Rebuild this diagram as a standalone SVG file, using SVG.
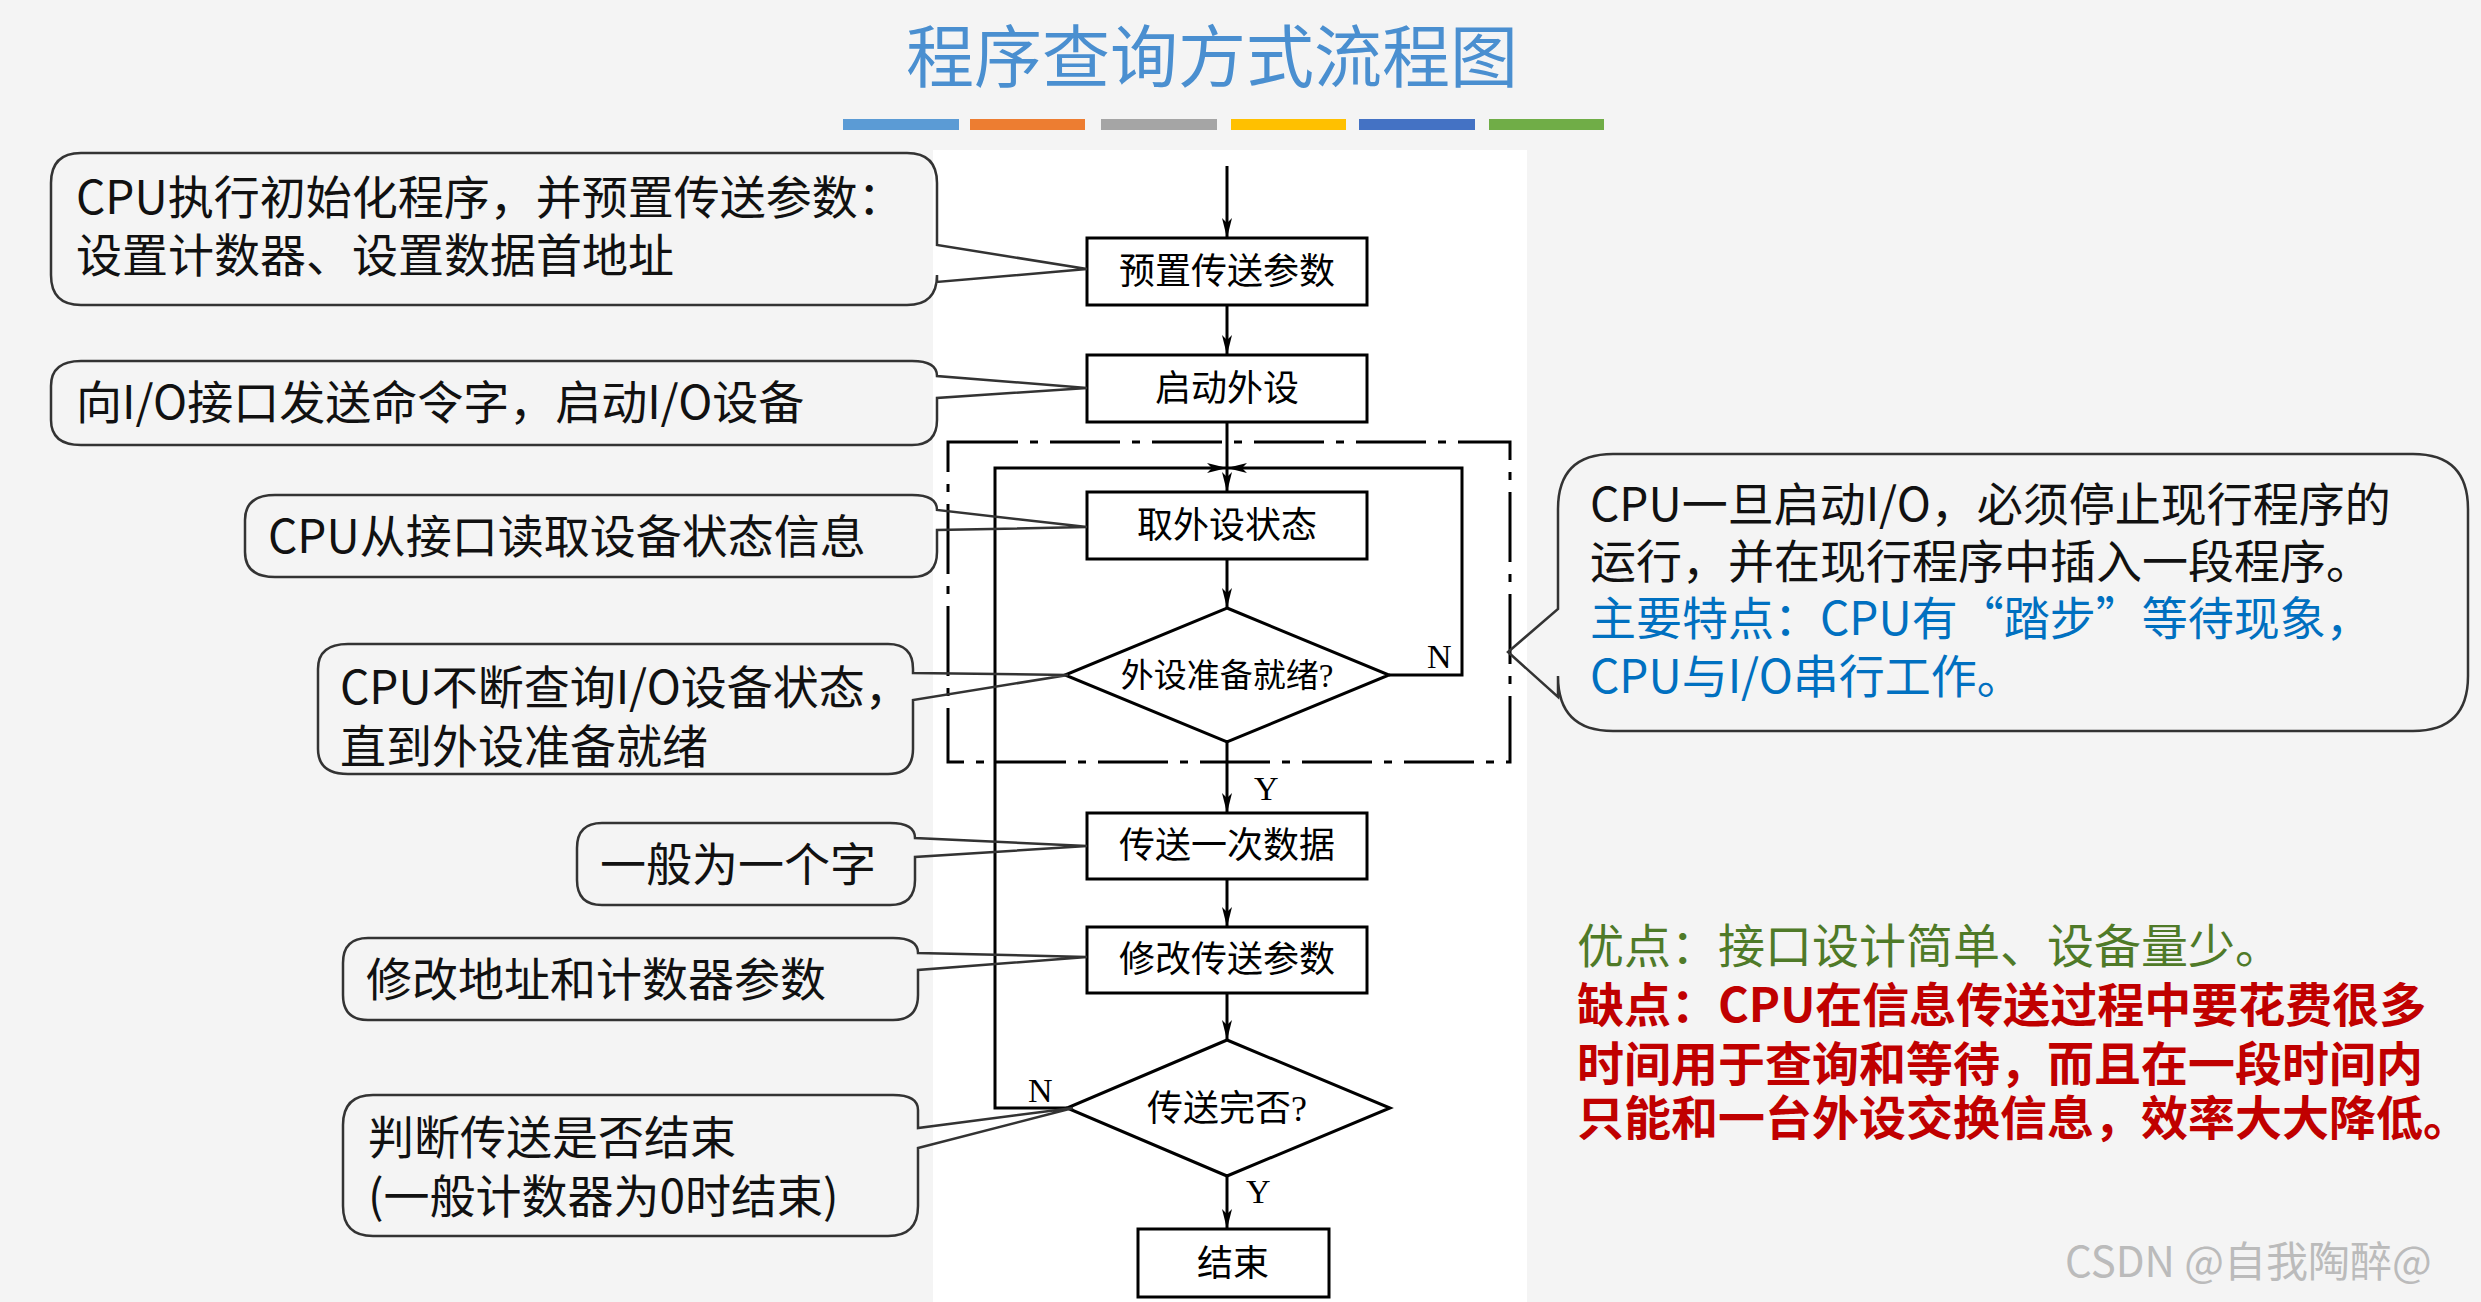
<svg xmlns="http://www.w3.org/2000/svg" width="2481" height="1302" viewBox="0 0 2481 1302">
<defs>
<marker id="ah" viewBox="0 0 20 10" refX="20" refY="5" markerWidth="20" markerHeight="10" markerUnits="userSpaceOnUse" orient="auto"><path d="M0,0 L20,5 L0,10 L5,5 Z" fill="#000"/></marker>
<style>
.box{fill:#fff;stroke:#000;stroke-width:3}
.ln{fill:none;stroke:#000;stroke-width:3}
.arr{fill:none;stroke:#000;stroke-width:3;marker-end:url(#ah)}
.co{fill:none;stroke:#333;stroke-width:2.5}
.bt{font-family:"Liberation Serif","Noto Sans CJK SC",serif;font-size:36px;text-anchor:middle;fill:#000}
.yn{font-family:"Liberation Serif",serif;font-size:34px;fill:#000}
.ct{font-family:"Noto Sans CJK SC",sans-serif;font-size:46px;fill:#111}
.blue{fill:#0070c0}
</style>
</defs>
<rect width="2481" height="1302" fill="#f4f4f4"/>
<rect x="933" y="150" width="594" height="1152" fill="#fff"/>
<text x="1212" y="82" font-family="Noto Sans CJK SC,sans-serif" font-size="68" fill="#4a8fd0" text-anchor="middle">程序查询方式流程图</text>
<g id="bars">
<rect x="843" y="119" width="116" height="11" fill="#5b9bd5"/>
<rect x="970" y="119" width="115" height="11" fill="#ed7d31"/>
<rect x="1101" y="119" width="116" height="11" fill="#a5a5a5"/>
<rect x="1231" y="119" width="115" height="11" fill="#ffc000"/>
<rect x="1359" y="119" width="116" height="11" fill="#4472c4"/>
<rect x="1489" y="119" width="115" height="11" fill="#70ad47"/>
</g>
<g id="connectors">
<rect x="948" y="442" width="562" height="320" fill="none" stroke="#000" stroke-width="3" stroke-dasharray="70 12 8 12"/>
<line class="arr" x1="1227" y1="166" x2="1227" y2="238"/>
<line class="arr" x1="1227" y1="305" x2="1227" y2="355"/>
<line class="arr" x1="1227" y1="422" x2="1227" y2="492"/>
<line class="arr" x1="1227" y1="559" x2="1227" y2="608"/>
<line class="arr" x1="1227" y1="742" x2="1227" y2="813"/>
<line class="arr" x1="1227" y1="879" x2="1227" y2="927"/>
<line class="arr" x1="1227" y1="993" x2="1227" y2="1040"/>
<line class="arr" x1="1227" y1="1176" x2="1227" y2="1229"/>
<polyline class="arr" points="1389,675 1462,675 1462,468 1227,468"/>
<polyline class="arr" points="1067,1108 995,1108 995,468 1227,468"/>
<text class="yn" x="1254" y="800">Y</text>
<text class="yn" x="1427" y="668">N</text>
<text class="yn" x="1028" y="1102">N</text>
<text class="yn" x="1246" y="1203">Y</text>
</g>
<g id="n1"><rect class="box" x="1087" y="238" width="280" height="67"/><text class="bt" x="1227" y="284">预置传送参数</text></g>
<g id="n2"><rect class="box" x="1087" y="355" width="280" height="67"/><text class="bt" x="1227" y="401">启动外设</text></g>
<g id="n3"><rect class="box" x="1087" y="492" width="280" height="67"/><text class="bt" x="1227" y="538">取外设状态</text></g>
<g id="n4"><polygon class="box" points="1227,608 1389,675 1227,742 1065,675"/><text class="bt" x="1227" y="687" style="font-size:33px">外设准备就绪?</text></g>
<g id="n5"><rect class="box" x="1087" y="813" width="280" height="66"/><text class="bt" x="1227" y="858">传送一次数据</text></g>
<g id="n6"><rect class="box" x="1087" y="927" width="280" height="66"/><text class="bt" x="1227" y="972">修改传送参数</text></g>
<g id="n7"><polygon class="box" points="1227,1040 1390,1108 1227,1176 1067,1108"/><text class="bt" x="1227" y="1121">传送完否?</text></g>
<g id="n8"><rect class="box" x="1138" y="1229" width="191" height="68"/><text class="bt" x="1233" y="1276">结束</text></g>
<g id="c1"><path class="co" d="M81,153 H907 Q937,153 937,183 V245 L1087,269 L937,282 V275 Q937,305 907,305 H81 Q51,305 51,275 V183 Q51,153 81,153 Z"/>
<text class="ct" x="76" y="214">CPU执行初始化程序，并预置传送参数：</text><text class="ct" x="76" y="272">设置计数器、设置数据首地址</text></g>
<g id="c2"><path class="co" d="M81,361 H912 Q937,361 937,376 L1087,388 L937,398 V420 Q937,445 912,445 H81 Q51,445 51,420 V386 Q51,361 81,361 Z"/>
<text class="ct" x="76" y="419">向I/O接口发送命令字，启动I/O设备</text></g>
<g id="c3"><path class="co" d="M275,495 H912 Q937,495 937,510 L1087,527 L937,530 V552 Q937,577 912,577 H275 Q245,577 245,552 V520 Q245,495 275,495 Z"/>
<text class="ct" x="268" y="553">CPU从接口读取设备状态信息</text></g>
<g id="c4"><path class="co" d="M348,644 H888 Q913,644 913,669 V673 L1068,675 L913,700 V749 Q913,774 888,774 H348 Q318,774 318,749 V669 Q318,644 348,644 Z"/>
<text class="ct" x="340" y="704">CPU不断查询I/O设备状态，</text><text class="ct" x="340" y="763">直到外设准备就绪</text></g>
<g id="c5"><path class="co" d="M602,823 H890 Q915,823 915,838 L1087,846 L915,857 V880 Q915,905 890,905 H602 Q577,905 577,880 V848 Q577,823 602,823 Z"/>
<text class="ct" x="600" y="881">一般为一个字</text></g>
<g id="c6"><path class="co" d="M368,938 H893 Q918,938 918,953 L1087,957 L918,970 V995 Q918,1020 893,1020 H368 Q343,1020 343,995 V963 Q343,938 368,938 Z"/>
<text class="ct" x="366" y="996">修改地址和计数器参数</text></g>
<g id="c7"><path class="co" d="M373,1095 H893 Q918,1095 918,1110 V1128 L1073,1108 L918,1148 V1206 Q918,1236 888,1236 H373 Q343,1236 343,1206 V1125 Q343,1095 373,1095 Z"/>
<text class="ct" x="368" y="1154">判断传送是否结束</text><text class="ct" x="368" y="1213">(一般计数器为0时结束)</text></g>
<g id="c8"><path class="co" d="M1613,454 H2413 Q2468,454 2468,509 V676 Q2468,731 2413,731 H1613 Q1558,731 1558,676 V697 L1508,652 L1558,609 V509 Q1558,454 1613,454 Z"/>
<text class="ct" x="1590" y="521">CPU一旦启动I/O，必须停止现行程序的</text>
<text class="ct" x="1590" y="578">运行，并在现行程序中插入一段程序。</text>
<text class="ct blue" x="1590" y="635">主要特点：CPU有“踏步”等待现象，</text>
<text class="ct blue" x="1590" y="693">CPU与I/O串行工作。</text></g>
<g id="notes" font-family="Noto Sans CJK SC,sans-serif" font-size="47">
<text x="1577" y="963" fill="#4f7a28">优点：接口设计简单、设备量少。</text>
<text x="1577" y="1022" fill="#c00000" font-weight="bold">缺点：CPU在信息传送过程中要花费很多</text>
<text x="1577" y="1081" fill="#c00000" font-weight="bold">时间用于查询和等待，而且在一段时间内</text>
<text x="1577" y="1135" fill="#c00000" font-weight="bold">只能和一台外设交换信息，效率大大降低。</text>
</g>
<text x="2065" y="1277" font-family="Noto Sans CJK SC,sans-serif" font-size="42" fill="#bbbbbb">CSDN @自我陶醉@</text>
</svg>
